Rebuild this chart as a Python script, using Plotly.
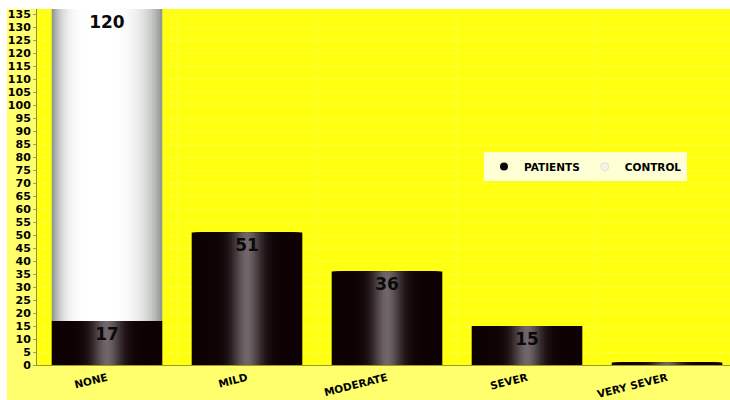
import plotly.graph_objects as go
import numpy as np

# Severity categories and counts
categories = ["NONE", "MILD", "MODERATE", "SEVER", "VERY SEVER"]
patients = [17, 51, 36, 15, 1]
control = [120, 0, 0, 0, 0]
y_ticks = list(range(0, 136, 5))

BAR_W = 0.79      # bar width in category units
N_LAYERS = 26     # nested layers used to shade each cylinder


def hex_to_rgb(h):
    h = h.lstrip("#")
    return np.array([int(h[i:i + 2], 16) for i in (0, 2, 4)], dtype=float)


def mix(c_edge, c_center, a):
    c = hex_to_rgb(c_edge) * (1 - a) + hex_to_rgb(c_center) * a
    return "rgb(%d,%d,%d)" % tuple(np.clip(np.round(c), 0, 255))


def cylinder_traces(values, base, edge, center, profile, shift):
    """Stack of narrowing overlay bars that fakes a lit cylinder."""
    traces = []
    for i in range(N_LAYERS):
        r = 1 - i / N_LAYERS
        w = BAR_W * r
        s = shift * (1 - r)
        traces.append(go.Bar(
            x=categories, y=values, base=base,
            width=w, offset=s - w / 2,
            marker=dict(color=mix(edge, center, profile(r)), line=dict(width=0)),
            showlegend=False, hoverinfo="skip",
        ))
    return traces


fig = go.Figure()

# patients: dark cylinders with a narrow central highlight
for t in cylinder_traces(patients, None, "#0e0204", "#72686c",
                         lambda t: float(np.exp(-(t / 0.28) ** 2)), 0.0):
    fig.add_trace(t)

# control: light cylinders stacked on the patient bars
for t in cylinder_traces(control, patients, "#949894", "#ffffff",
                         lambda t: 1 - t ** 4, -0.08):
    fig.add_trace(t)

# value labels at the top of each segment
label_font = dict(family="DejaVu Sans", size=17, color="#0a0a0a", weight="bold")
fig.add_trace(go.Bar(
    x=categories, y=patients, width=BAR_W,
    marker=dict(color="rgba(0,0,0,0)", line=dict(width=0)),
    text=patients, textposition="inside", insidetextanchor="end",
    textfont=label_font, showlegend=False, hoverinfo="skip",
))
fig.add_trace(go.Bar(
    x=categories, y=control, base=patients, width=BAR_W,
    marker=dict(color="rgba(0,0,0,0)", line=dict(width=0)),
    text=control, textposition="inside", insidetextanchor="end",
    textfont=label_font, showlegend=False, hoverinfo="skip",
))

# legend entries
fig.add_trace(go.Scatter(x=[None], y=[None], mode="markers", name="PATIENTS",
                         marker=dict(symbol="circle", size=8, color="#0a0a0a")))
fig.add_trace(go.Scatter(x=[None], y=[None], mode="markers", name="CONTROL",
                         marker=dict(symbol="circle", size=8, color="#f4f4ee",
                                     line=dict(color="#e0e0d0", width=1))))

tick_font = dict(family="DejaVu Sans", size=11, color="#000000", weight="bold")
cat_font = dict(family="DejaVu Sans", size=10.5, color="#000000", weight="bold")

fig.update_layout(
    width=730, height=400,
    margin=dict(l=37, r=0, t=9, b=35),
    barmode="overlay",
    paper_bgcolor="#ffff6e",
    plot_bgcolor="#ffff12",
    uniformtext=dict(minsize=12, mode="hide"),
    showlegend=True,
    legend=dict(
        orientation="h", x=0.645, y=0.598, xanchor="left", yanchor="top",
        bgcolor="#ffffd6", font=dict(family="DejaVu Sans", size=10.5,
                                      color="#000000", weight="bold"),
        itemwidth=30, tracegroupgap=0,
    ),
    xaxis=dict(
        type="category", range=[-0.5, 4.45], automargin=False,
        tickangle=-14, tickfont=cat_font, ticklabelstandoff=2,
        showline=True, linecolor="#9c9c1e", linewidth=1,
        showgrid=True, gridcolor="#ffff36", tickson="boundaries",
        ticks="", zeroline=False,
    ),
    yaxis=dict(
        range=[0, 137], tickvals=y_ticks, tickfont=tick_font, automargin=False,
        showline=True, linecolor="#8f8f3a", linewidth=1,
        ticks="outside", ticklen=3, tickcolor="#a0a070",
        showgrid=True, gridcolor="#ffff36", zeroline=False,
    ),
    shapes=[
        # white border strips along the top and left edges
        dict(type="rect", xref="paper", yref="paper", x0=-0.06, x1=1.0,
             y0=1.0, y1=1.06, fillcolor="#ffffff", line=dict(width=0), layer="above"),
        dict(type="rect", xref="paper", yref="paper", x0=-0.06, x1=-0.0435,
             y0=-0.12, y1=1.06, fillcolor="#ffffff", line=dict(width=0), layer="below"),
    ],
)

fig.write_html("out.html")
